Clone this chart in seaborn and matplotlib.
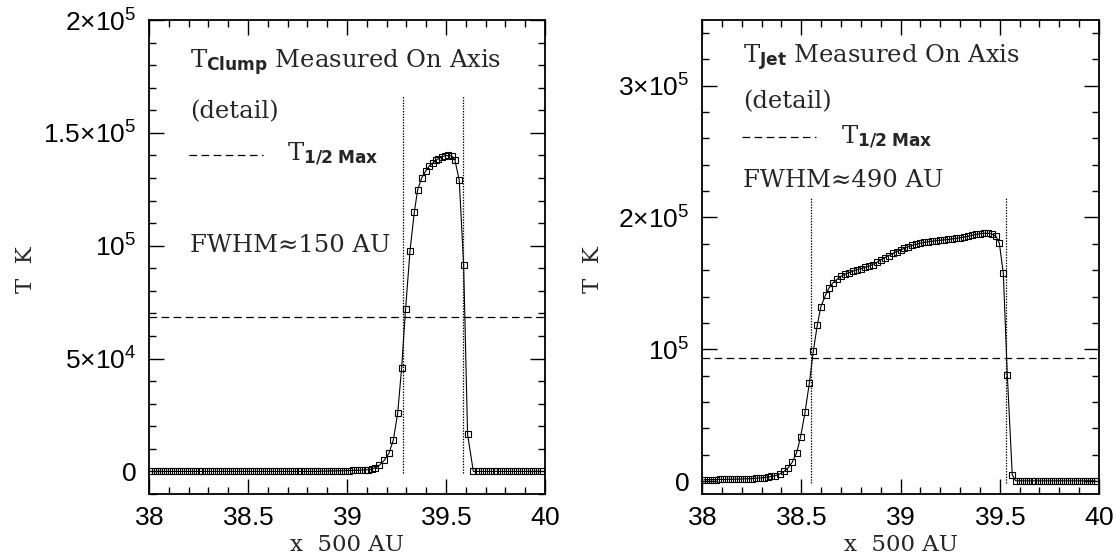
import numpy as np
import pandas as pd
import matplotlib
matplotlib.use("Agg")
import matplotlib.pyplot as plt
import seaborn as sns
from matplotlib.ticker import FixedLocator, MultipleLocator, FixedFormatter

# ---------------- data ----------------
# Left panel: T_Clump measured on axis (x in units of 500 AU, T in K)
clump_x = [38.01, 38.03, 38.05, 38.07, 38.09, 38.11, 38.13, 38.15, 38.17, 38.19,
           38.21, 38.23, 38.25, 38.27, 38.29, 38.31, 38.33, 38.35, 38.37, 38.39,
           38.41, 38.43, 38.45, 38.47, 38.49, 38.51, 38.53, 38.55, 38.57, 38.59,
           38.61, 38.63, 38.65, 38.67, 38.69, 38.71, 38.73, 38.75, 38.77, 38.79,
           38.81, 38.83, 38.85, 38.87, 38.89, 38.91, 38.93, 38.95, 38.97, 38.99,
           39.01, 39.03, 39.05, 39.07, 39.09, 39.107,
           39.125, 39.141, 39.163, 39.188, 39.212, 39.234, 39.256, 39.276, 39.296, 39.318,
           39.340, 39.357, 39.377, 39.399, 39.416, 39.433, 39.448, 39.461, 39.478, 39.495,
           39.512, 39.529, 39.545, 39.567, 39.589, 39.609, 39.638,
           39.66, 39.68, 39.70, 39.72, 39.74, 39.76, 39.78, 39.80, 39.82, 39.84,
           39.86, 39.88, 39.90, 39.92, 39.94, 39.96, 39.98]
clump_T = [0, 0, 0, 0, 0, 0, 0, 0, 0, 0,
           0, 0, 0, 0, 0, 0, 0, 0, 0, 0,
           0, 0, 0, 0, 0, 0, 0, 0, 0, 0,
           0, 0, 0, 0, 0, 0, 0, 0, 0, 0,
           0, 0, 0, 100, 130, 160, 200, 240, 290, 340,
           400, 460, 530, 600, 680, 780,
           900, 1600, 2700, 4900, 8100, 13900, 25800, 46000, 72100, 97500,
           115000, 124800, 130000, 133300, 135400, 136600, 137800, 138500, 139300, 139800,
           140000, 139800, 138000, 128900, 91600, 16400, 0,
           0, 0, 0, 0, 0, 0, 0, 0, 0, 0,
           0, 0, 0, 0, 0, 0, 0]
clump_half_max = 68500
clump_fwhm_edges = [39.284, 39.587]
clump_edge_T = [-800, 166500]

# Right panel: T_Jet measured on axis
jet_x = [38.01, 38.03, 38.05, 38.07, 38.09, 38.11, 38.13, 38.15, 38.17, 38.19,
         38.21, 38.23, 38.25, 38.27, 38.29, 38.31, 38.33, 38.35, 38.37,
         38.393, 38.413, 38.435, 38.455, 38.477, 38.497, 38.519, 38.541, 38.561, 38.581,
         38.599, 38.623, 38.641, 38.661, 38.682,
         38.70, 38.72, 38.74, 38.76, 38.78, 38.80, 38.82, 38.84, 38.86, 38.88,
         38.90, 38.92, 38.94, 38.96, 38.98, 39.00, 39.02, 39.04, 39.06, 39.08,
         39.10, 39.12, 39.14, 39.16, 39.18, 39.20, 39.22, 39.24, 39.26, 39.28,
         39.30, 39.32, 39.34, 39.36, 39.38, 39.40, 39.42, 39.44, 39.46, 39.48,
         39.498, 39.518, 39.538, 39.563,
         39.58, 39.60, 39.62, 39.64, 39.66, 39.68, 39.70, 39.72, 39.74, 39.76,
         39.78, 39.80, 39.82, 39.84, 39.86, 39.88, 39.90, 39.92, 39.94, 39.96, 39.98]
jet_T = [850, 900, 950, 1000, 1050, 1100, 1150, 1200, 1250, 1350,
         1450, 1550, 1700, 1900, 2100, 2400, 2800, 3300, 4000,
         5300, 7100, 10100, 14200, 21500, 33600, 51900, 74600, 98700, 118500,
         132400, 141200, 146800, 150600, 153200,
         155300, 156900, 158000, 159200, 160200, 161100, 162100, 163000, 164300, 165900,
         167800, 169500, 171000, 172700, 174100, 175300, 176600, 177900, 178900, 179700,
         180500, 181100, 181600, 182000, 182400, 182700, 183000, 183300, 183700, 184100,
         184600, 185100, 185700, 186500, 187200, 187700, 188000, 188000, 187500, 186000,
         180500, 157500, 80500, 4500,
         0, 0, 0, 0, 0, 0, 0, 0, 0, 0,
         0, 0, 0, 0, 0, 0, 0, 0, 0, 0, 0]
jet_half_max = 93000
jet_fwhm_edges = [38.549, 39.531]
jet_edge_T = [-1500, 215000]

# ticks / labels
x_major = [38.0, 38.5, 39.0, 39.5, 40.0]
x_labels = [r"$38$", r"$38.5$", r"$39$", r"$39.5$", r"$40$"]
left_y_major = [0, 50000, 100000, 150000, 200000]
left_y_labels = [r"$0$", r"$5{\times}10^{4}$", r"$10^{5}$",
                 r"$1.5{\times}10^{5}$", r"$2{\times}10^{5}$"]
right_y_major = [0, 100000, 200000, 300000]
right_y_labels = [r"$0$", r"$10^{5}$", r"$2{\times}10^{5}$", r"$3{\times}10^{5}$"]

# ---------------- style ----------------
sns.set_theme(style="ticks")
plt.rcParams.update({
    "font.family": ["DejaVu Serif"],
    "mathtext.fontset": "custom",
    "mathtext.rm": "Liberation Sans",
    "mathtext.it": "Liberation Sans:italic",
    "mathtext.bf": "DejaVu Sans:bold",
    "lines.scale_dashes": False,
    "axes.linewidth": 1.3,
    "axes.edgecolor": "black",
    "xtick.direction": "in", "ytick.direction": "in",
    "xtick.top": True, "ytick.right": True,
    "xtick.major.size": 10.5, "ytick.major.size": 10.5,
    "xtick.minor.size": 5, "ytick.minor.size": 5,
    "xtick.major.width": 1.0, "ytick.major.width": 1.0,
    "xtick.minor.width": 1.0, "ytick.minor.width": 1.0,
    "xtick.color": "black", "ytick.color": "black",
    "xtick.labelsize": 19, "ytick.labelsize": 19,
})

fig = plt.figure(figsize=(11.17, 5.56), dpi=100)
W, H = 1117.0, 556.0
ax_l = fig.add_axes([149 / W, 62 / H, 396 / W, 474 / H])
ax_r = fig.add_axes([702 / W, 62 / H, 397 / W, 474 / H])

dash = (0, (5.5, 3.2))
dot = (0, (1.0, 1.0))
txt_fs = 17.5


def panel(ax, xs, ys, half, edges, edge_T, ylim, ymaj, ylab, yminor, sub, fwhm,
          ty):
    sns.lineplot(x=xs, y=ys, ax=ax, color="black", lw=0.8, marker="s",
                 markersize=5.0, markerfacecolor="none", markeredgecolor="black",
                 markeredgewidth=0.8, estimator=None, sort=False)
    ax.axhline(half, color="black", lw=0.9, ls=dash)
    for e in edges:
        ax.plot([e, e], edge_T, color="black", lw=0.9, ls=dot)
    ax.set_xlim(38, 40)
    ax.set_ylim(*ylim)
    ax.xaxis.set_major_locator(FixedLocator(x_major))
    ax.xaxis.set_major_formatter(FixedFormatter(x_labels))
    ax.xaxis.set_minor_locator(MultipleLocator(0.1))
    ax.yaxis.set_major_locator(FixedLocator(ymaj))
    ax.yaxis.set_major_formatter(FixedFormatter(ylab))
    ax.yaxis.set_minor_locator(MultipleLocator(yminor))
    ax.tick_params(which="both", top=True, right=True, direction="in")
    ax.tick_params(axis="x", which="major", pad=8)
    ax.tick_params(axis="y", which="major", pad=9)
    for s in ax.spines.values():
        s.set_visible(True)
        s.set_color("black")
    ax.set_xlabel("")
    ax.set_ylabel("")
    # annotations (axes fractions)
    ax.text(0.103, ty[0], r"T$_{\mathbf{" + sub + r"}}$ Measured On Axis",
            transform=ax.transAxes, fontsize=txt_fs, va="baseline", ha="left")
    ax.text(0.103, ty[1], "(detail)", transform=ax.transAxes, fontsize=txt_fs,
            va="baseline", ha="left")
    ax.plot([0.101, 0.288], [ty[2], ty[2]], transform=ax.transAxes,
            color="black", lw=0.9, ls=dash)
    ax.text(0.349, ty[3], r"T$_{\mathbf{1/2\ Max}}$", transform=ax.transAxes,
            fontsize=txt_fs, va="baseline", ha="left")
    ax.text(0.103, ty[4], fwhm, transform=ax.transAxes, fontsize=txt_fs,
            va="baseline", ha="left")
    ax.text(0.5, -0.108, "x  500 AU", transform=ax.transAxes, fontsize=16.5,
            ha="center", va="center")


panel(ax_l, clump_x, clump_T, clump_half_max, clump_fwhm_edges, clump_edge_T,
      (-10000, 200000), left_y_major, left_y_labels, 10000, "Clump",
      "FWHM\u2248150 AU", [0.899, 0.793, 0.715, 0.705, 0.511])
panel(ax_r, jet_x, jet_T, jet_half_max, jet_fwhm_edges, jet_edge_T,
      (-10000, 350000), right_y_major, right_y_labels, 20000, "Jet",
      "FWHM\u2248490 AU", [0.909, 0.814, 0.754, 0.741, 0.648])

ax_l.text(-0.31, 0.473, "T  K", transform=ax_l.transAxes, fontsize=16.5,
          rotation=90, ha="center", va="center")
ax_r.text(-0.275, 0.473, "T  K", transform=ax_r.transAxes, fontsize=16.5,
          rotation=90, ha="center", va="center")

fig.savefig("out.png", dpi=100, facecolor="white")
